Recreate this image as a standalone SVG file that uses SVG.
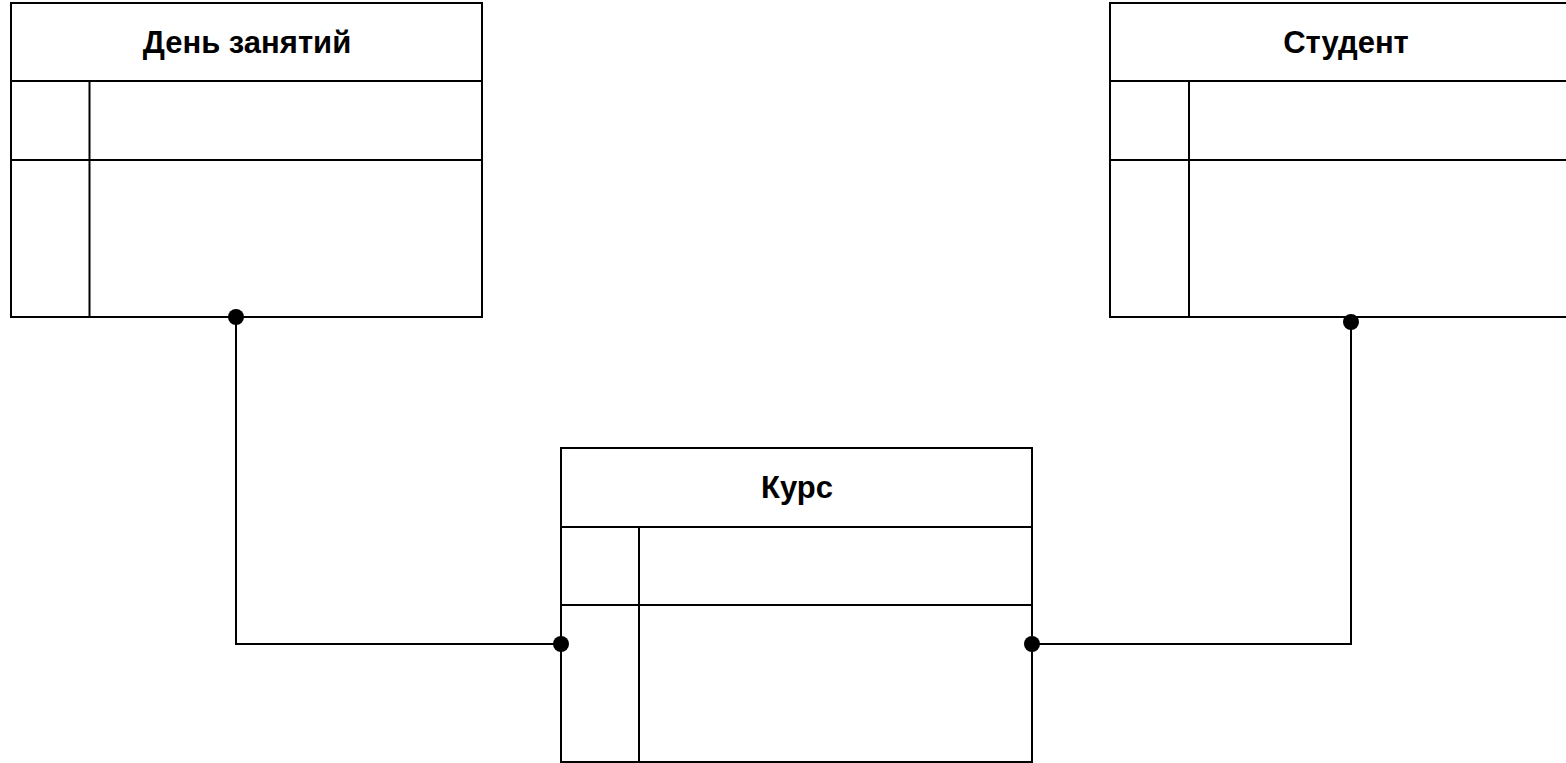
<svg xmlns="http://www.w3.org/2000/svg" width="1566" height="763" viewBox="0 0 1566 763">
<style>
.box{fill:#ffffff;stroke:#000000;stroke-width:2}
.ln{stroke:#000000;stroke-width:2;fill:none}
.title{font-family:"Liberation Sans",Arial,sans-serif;font-weight:bold;font-size:31px;fill:#000000;text-anchor:middle}
.dot{fill:#000000}
</style>
<rect width="1566" height="763" fill="#ffffff"/>
<g id="connectors">
<polyline class="ln" points="236,317 236,644 561,644"/>
<polyline class="ln" points="1032,644 1351,644 1351,322"/>
</g>
<g id="den-zanyatiy">
<rect class="box" x="11" y="3" width="471" height="314"/>
<line class="ln" x1="11" y1="81" x2="482" y2="81"/>
<line class="ln" x1="11" y1="160" x2="482" y2="160"/>
<line class="ln" x1="89.5" y1="81" x2="89.5" y2="317"/>
<text class="title" x="247" y="53">День занятий</text>
</g>
<g id="student">
<rect class="box" x="1110" y="3" width="471" height="314"/>
<line class="ln" x1="1110" y1="81" x2="1581" y2="81"/>
<line class="ln" x1="1110" y1="160" x2="1581" y2="160"/>
<line class="ln" x1="1189" y1="81" x2="1189" y2="317"/>
<text class="title" x="1346" y="53">Студент</text>
</g>
<g id="kurs">
<rect class="box" x="561" y="448" width="471" height="314"/>
<line class="ln" x1="561" y1="527" x2="1032" y2="527"/>
<line class="ln" x1="561" y1="605" x2="1032" y2="605"/>
<line class="ln" x1="639" y1="527" x2="639" y2="762"/>
<text class="title" x="797" y="498">Курс</text>
</g>
<g id="ends">
<circle class="dot" cx="236" cy="317" r="8"/>
<circle class="dot" cx="1351" cy="322" r="8"/>
<circle class="dot" cx="561" cy="644" r="8"/>
<circle class="dot" cx="1032" cy="644" r="8"/>
</g>
</svg>
